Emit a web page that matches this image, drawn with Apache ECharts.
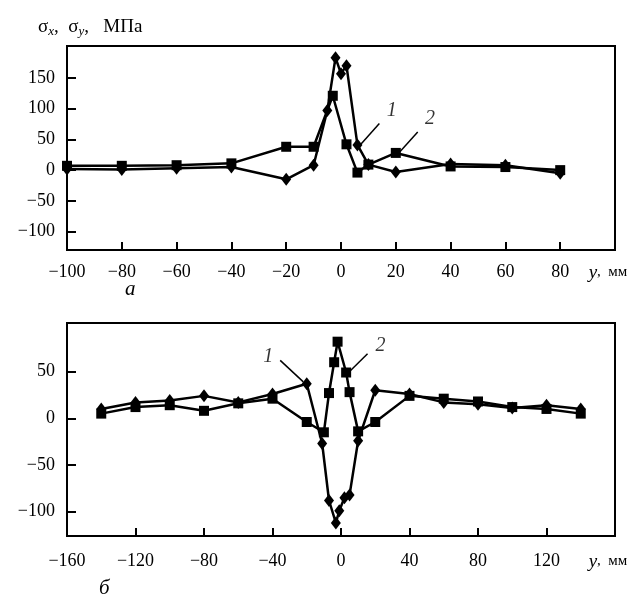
<!DOCTYPE html>
<html>
<head>
  <meta charset="utf-8">
  <title>Stress profiles</title>
  <script src="https://cdn.jsdelivr.net/npm/echarts@6/dist/echarts.min.js"></script>
  <style>
    html, body { margin: 0; padding: 0; background: #fff; }
    #chart { width: 643px; height: 604px; }
  </style>
</head>
<body>
  <div id="chart"></div>
  <script>
    // panel a (top)
    const topX1 = [-100, -80, -60, -40, -20, -10, -5, -2, 0, 2, 6, 10, 20, 40, 60, 80];
    const topY1 = [2, 1, 3, 5, -15, 8, 97, 183, 157, 170, 41, 9, -3, 10, 8, -5];
    const topX2 = [-100, -80, -60, -40, -20, -10, -3, 2, 6, 10, 20, 40, 60, 80];
    const topY2 = [7, 7, 8, 11, 38, 38, 121, 42, -4, 9, 28, 6, 5, 0];
    const topYTicks = [-100, -50, 0, 50, 100, 150];

    // panel б (bottom)
    const botX1 = [-140, -120, -100, -80, -60, -40, -20, -11, -7, -3, -1, 2, 5, 10, 20, 40, 60, 80, 100, 120, 140];
    const botY1 = [10, 17, 19, 24, 17, 26, 37, -27, -88, -112, -99, -85, -82, -24, 30, 26, 17, 15, 11, 14, 10];
    const botX2 = [-140, -120, -100, -80, -60, -40, -20, -10, -7, -4, -2, 3, 5, 10, 20, 40, 60, 80, 100, 120, 140];
    const botY2 = [5, 12, 14, 8, 16, 21, -4, -15, 27, 60, 82, 49, 28, -14, -4, 24, 21, 18, 12, 10, 5];
    const botYTicks = [-100, -50, 0, 50];

    // curve labels: [text, labelX, labelY, lineFromX, lineFromY, lineToX, lineToY]
    const topNotes = [['1', 18.5, 97, 14, 76, 7, 41], ['2', 32.5, 84, 28, 62, 21.5, 30]];
    const botNotes = [['1', -42.5, 66, -35.5, 62, -22, 39], ['2', 23, 78, 15.5, 69, 5, 50]];

    const serif = 'Liberation Serif';
    const pairs = (xs, ys) => xs.map((x, i) => [x, ys[i]]);
    const minus = v => (v < 0 ? '\u2212' + (-v) : String(v));

    function xAxis(idx, min, max, step, margin) {
      return {
        type: 'value', gridIndex: idx, min: min, max: max, interval: step,
        splitLine: { show: false },
        axisLine: { onZero: false, lineStyle: { color: '#000', width: 2 } },
        axisTick: { inside: true, length: 8, lineStyle: { color: '#000', width: 2 } },
        axisLabel: {
          color: '#000', fontFamily: serif, fontSize: 18, margin: margin,
          formatter: v => (v === max ? '{i|y}{n|,  мм}' : minus(v)),
          rich: {
            i: { fontFamily: serif, fontStyle: 'italic', fontSize: 19, color: '#000' },
            n: { fontFamily: serif, fontSize: 15, color: '#000', padding: [0, 14, 0, 0] }
          }
        }
      };
    }

    function yAxis(idx, min, max, ticks) {
      return {
        type: 'value', gridIndex: idx, min: min, max: max,
        splitLine: { show: false },
        axisLine: { show: true, onZero: false, lineStyle: { color: '#000', width: 2 } },
        axisTick: { inside: true, length: 9, customValues: ticks, lineStyle: { color: '#000', width: 2 } },
        axisLabel: {
          color: '#000', fontFamily: serif, fontSize: 18, margin: 12,
          customValues: ticks, formatter: minus
        }
      };
    }

    function curve(idx, data, symbol, size) {
      return {
        type: 'line', xAxisIndex: idx, yAxisIndex: idx, data: data,
        symbol: symbol, symbolSize: size, showSymbol: true, animation: false,
        lineStyle: { color: '#000', width: 2.5 },
        itemStyle: { color: '#000' }
      };
    }

    function notes(idx, list) {
      const out = [];
      list.forEach(n => {
        out.push({
          type: 'line', xAxisIndex: idx, yAxisIndex: idx, symbol: 'none', animation: false,
          data: [[n[3], n[4]], [n[5], n[6]]],
          lineStyle: { color: '#000', width: 1.5 }
        });
      });
      out.push({
        type: 'scatter', xAxisIndex: idx, yAxisIndex: idx, symbolSize: 0, animation: false,
        data: list.map(n => ({ value: [n[1], n[2]], name: n[0] })),
        label: {
          show: true, position: 'inside', formatter: p => p.name,
          fontFamily: serif, fontStyle: 'italic', fontSize: 20, color: '#000'
        }
      });
      return out;
    }

    const chart = echarts.init(document.getElementById('chart'));
    chart.setOption({
      backgroundColor: '#fff',
      animation: false,
      grid: [
        { left: 67, right: 28, top: 46, height: 204, show: true, borderColor: '#000', borderWidth: 2 },
        { left: 67, right: 28, top: 323, height: 213, show: true, borderColor: '#000', borderWidth: 2 }
      ],
      xAxis: [xAxis(0, -100, 100, 20, 13), xAxis(1, -160, 160, 40, 16)],
      yAxis: [yAxis(0, -130, 202, topYTicks), yAxis(1, -126, 102, botYTicks)],
      graphic: [
        {
          type: 'text', left: 38, top: 18,
          style: {
            text: '{g|σ}{s|x}{g|,  σ}{s|y}{g|,   МПа}',
            rich: {
              g: { fontFamily: serif, fontSize: 19, lineHeight: 22, fill: '#000' },
              s: { fontFamily: serif, fontStyle: 'italic', fontSize: 13, lineHeight: 22, verticalAlign: 'bottom', fill: '#000' }
            }
          }
        },
        { type: 'text', left: 125, top: 279, style: { text: 'а', font: 'italic 21px "Liberation Serif"', fill: '#000' } },
        { type: 'text', left: 99, top: 578, style: { text: 'б', font: 'italic 21px "Liberation Serif"', fill: '#000' } }
      ],
      series: [
        curve(0, pairs(topX1, topY1), 'diamond', [10, 13]),
        curve(0, pairs(topX2, topY2), 'rect', 10),
        curve(1, pairs(botX1, botY1), 'diamond', [10, 13]),
        curve(1, pairs(botX2, botY2), 'rect', 10)
      ].concat(notes(0, topNotes), notes(1, botNotes))
    });
  </script>
</body>
</html>
